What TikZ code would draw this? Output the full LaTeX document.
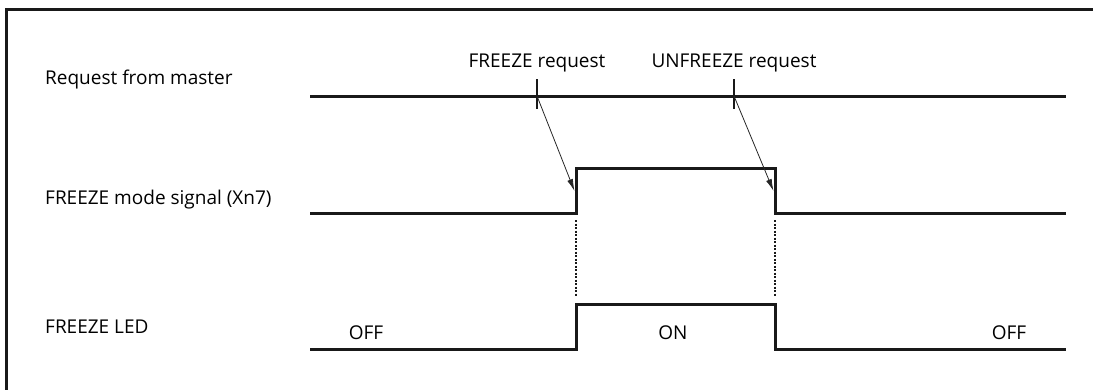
\documentclass[tikz,border=0pt]{standalone}
\usepackage{fontspec}
\setmainfont{Open Sans}
\usetikzlibrary{positioning, calc}
\usetikzlibrary{arrows.meta}
\tikzstyle{frameline}=[line width=3pt, black!90]
\tikzstyle{signal}=[line width=3pt, black!90, line join=miter]
\tikzstyle{tickmark}=[line width=2.2pt, black!90]
\tikzstyle{rowtext}=[anchor=west, inner sep=0pt, font=\fontsize{19}{21}\selectfont]
\tikzstyle{marktext}=[inner sep=0pt, font=\fontsize{19}{21}\selectfont]
\tikzstyle{reqarrow}=[-{Latex[length=12pt,width=6pt]}, line width=0.8pt, black!85]
\tikzstyle{guide}=[dash pattern=on 2pt off 1.5pt, line width=1.2pt, black!90]

\begin{document}
\begin{tikzpicture}[x=1pt, y=-1pt]
    \useasboundingbox (0,0) rectangle (1093,389);
    \draw[frameline] (6,395) -- (6,9) -- (1100,9);

    % row names
    \node[rowtext] (req) at (45,80) {Request from master};
    \node[rowtext] (mode) at (45,200) {FREEZE mode signal (Xn7)};
    \node[rowtext] (led) at (45,327) {FREEZE LED};

    % request from master
    \coordinate (r0) at (310,96);
    \coordinate (r1) at (1066,96);
    \coordinate (fr) at (537,96);
    \coordinate (ufr) at (734,96);
    \draw[signal] (r0) -- (r1);
    \draw[tickmark] ($(fr)+(0,-17)$) -- ($(fr)+(0,13)$);
    \draw[tickmark] ($(ufr)+(0,-17)$) -- ($(ufr)+(0,13)$);
    \node[marktext] (frtext) at (537,63) {FREEZE request};
    \node[marktext] (ufrtext) at (734,63) {UNFREEZE request};

    % freeze mode signal
    \coordinate (m0) at (310,213);
    \coordinate (mup) at (576,213);
    \coordinate (mdown) at (775,213);
    \coordinate (m1) at (1066,213);
    \draw[signal] (m0) -- (mup) -- (576,168) -- (775,168) -- (mdown) -- (m1);
    \coordinate (frhit) at (574.5,191);
    \coordinate (ufrhit) at (773.5,191);
    \draw[reqarrow] (fr) -- (frhit);
    \draw[reqarrow] (ufr) -- (ufrhit);

    % freeze led
    \coordinate (l0) at (310,349);
    \coordinate (lup) at (576,349);
    \coordinate (ldown) at (775,349);
    \coordinate (l1) at (1066,349);
    \draw[signal] (l0) -- (lup) -- (576,304) -- (775,304) -- (ldown) -- (l1);
    \node[marktext] (offa) at (366,333) {OFF};
    \node[marktext] (on) at (673,333) {ON};
    \node[marktext] (offb) at (1009,333) {OFF};

    % timing guides
    \draw[guide] (576,220) -- (576,296);
    \draw[guide] (775,220) -- (775,296);
\end{tikzpicture}
\end{document}
